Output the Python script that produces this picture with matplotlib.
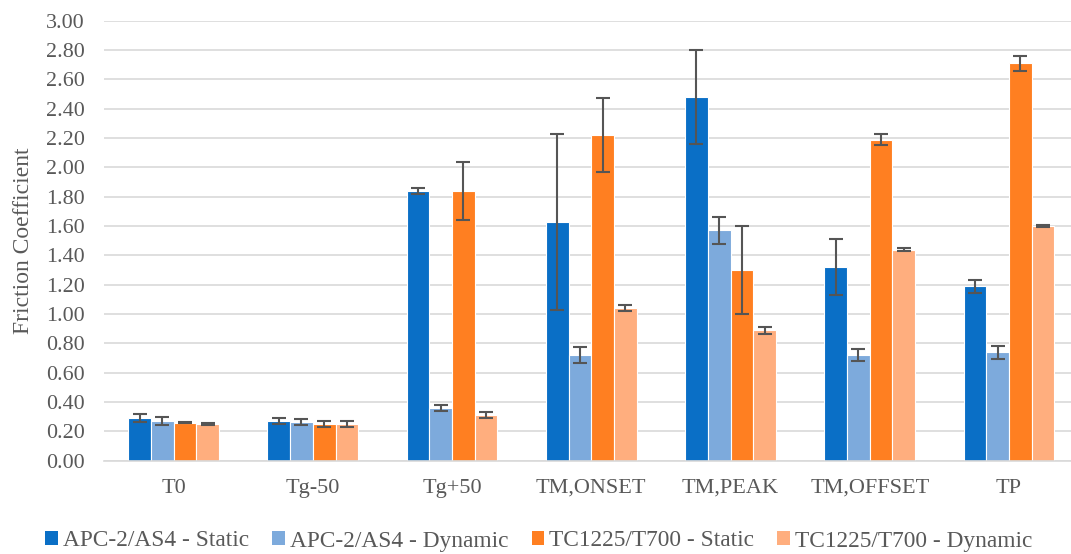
import matplotlib
matplotlib.use("Agg")
import matplotlib.pyplot as plt
import numpy as np
from matplotlib.patches import Patch

categories = ["T0", "Tg-50", "Tg+50", "TM,ONSET", "TM,PEAK", "TM,OFFSET", "TP"]
series_names = ["APC-2/AS4 - Static", "APC-2/AS4 - Dynamic",
                "TC1225/T700 - Static", "TC1225/T700 - Dynamic"]
apc_static = [0.29, 0.27, 1.84, 1.63, 2.48, 1.32, 1.19]
apc_static_err = [0.027, 0.02, 0.02, 0.60, 0.32, 0.19, 0.045]
apc_dynamic = [0.27, 0.265, 0.36, 0.72, 1.57, 0.72, 0.74]
apc_dynamic_err = [0.025, 0.02, 0.02, 0.055, 0.095, 0.04, 0.045]
tc_static = [0.26, 0.25, 1.84, 2.22, 1.30, 2.19, 2.71]
tc_static_err = [0.005, 0.02, 0.20, 0.25, 0.30, 0.035, 0.05]
tc_dynamic = [0.25, 0.25, 0.31, 1.04, 0.89, 1.44, 1.60]
tc_dynamic_err = [0.005, 0.02, 0.02, 0.02, 0.025, 0.01, 0.008]
yticks = [0.0, 0.2, 0.4, 0.6, 0.8, 1.0, 1.2, 1.4, 1.6, 1.8, 2.0, 2.2, 2.4, 2.6, 2.8, 3.0]

colors = ["#0A6FC6", "#7DAADC", "#FF7F21", "#FFAE7E"]
values = [apc_static, apc_dynamic, tc_static, tc_dynamic]
errors = [apc_static_err, apc_dynamic_err, tc_static_err, tc_dynamic_err]

plt.rcParams['font.family'] = ['Liberation Serif', 'DejaVu Serif']

fig = plt.figure(figsize=(10.71, 5.54), dpi=100)
ax = fig.add_axes([104/1071, 93.3/554, (1078.6-104)/1071, (533.3-93.3)/554])

x = np.arange(len(categories))
w = 0.163
for i, (vals, errs, c) in enumerate(zip(values, errors, colors)):
    pos = x + (i - 1.5) * w
    ax.bar(pos, vals, width=w, color=c, edgecolor="white", linewidth=0.8, zorder=2)
    ax.errorbar(pos, vals, yerr=errs, fmt="none", ecolor="#555555",
                elinewidth=1.5, capsize=5, capthick=1.5, zorder=3)

ax.set_xlim(-0.5, len(categories) - 0.5)
ax.set_ylim(0, 3.0)
ax.set_yticks(yticks)
ax.set_yticklabels([f"{v:.2f}" for v in yticks])
ax.set_xticks(x)
ax.set_xticklabels(categories)
ax.grid(axis="y", color="#D9D9D9", linewidth=1.2, zorder=0)
ax.set_axisbelow(True)
for s in ["top", "right", "left"]:
    ax.spines[s].set_visible(False)
ax.spines["bottom"].set_color("#D9D9D9")
ax.spines["bottom"].set_linewidth(1.2)
ax.tick_params(axis="both", length=0, colors="#595959")
ax.tick_params(axis="x", pad=13, labelsize=16)
ax.tick_params(axis="y", pad=14, labelsize=15.8)
ax.set_ylabel("Friction Coefficient", fontsize=17, color="#595959")
ax.yaxis.set_label_coords(-0.072, 0.5)

handles = [Patch(facecolor=c, edgecolor="none") for c in colors]
fig.legend(handles, series_names, loc="center", bbox_to_anchor=(0.503, 13/554),
           ncol=4, frameon=False, fontsize=16.8, labelcolor="#595959",
           handlelength=0.55, handleheight=0.55, handletextpad=0.2, columnspacing=1.0)

fig.savefig("out.png", dpi=100)
